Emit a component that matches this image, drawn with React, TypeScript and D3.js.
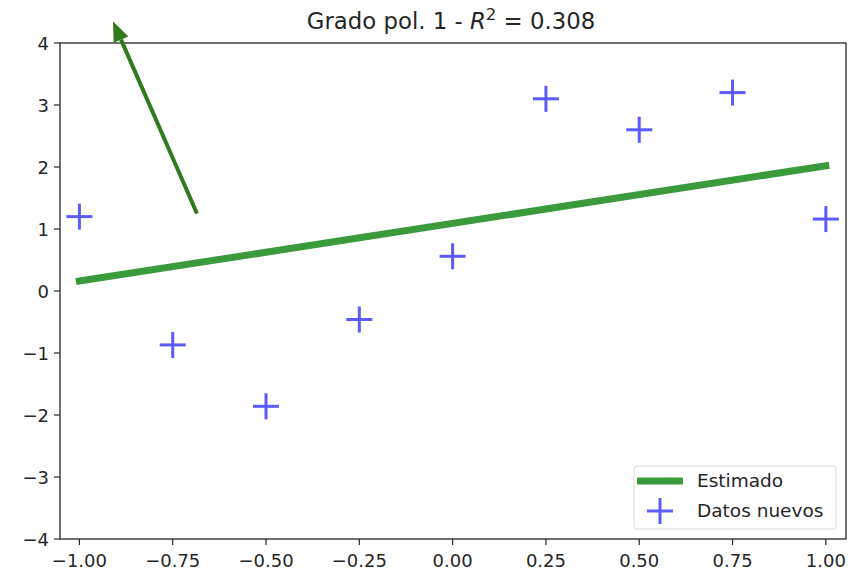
import React from "react";
import * as d3 from "d3";

const xTicks = [-1.0, -0.75, -0.5, -0.25, 0.0, 0.25, 0.5, 0.75, 1.0];
const yTicks = [-4, -3, -2, -1, 0, 1, 2, 3, 4];

// datos nuevos
const xData = [-1.0, -0.75, -0.5, -0.25, 0.0, 0.25, 0.5, 0.75, 1.0];
const yData = [1.2, -0.87, -1.86, -0.46, 0.56, 3.1, 2.6, 3.2, 1.16];

// recta estimada (extremos)
const fitX = [-1.0, 1.0];
const fitY = [0.16, 2.02];

// flecha (inicio -> punta)
const arrowFrom = [-0.685, 1.25];
const arrowTo = [-0.91, 4.35];

const W = 858;
const H = 572;
const margin = { left: 60, right: 12, top: 43, bottom: 33 };
const font = "DejaVu Sans, sans-serif";

export default function App() {
  const x = d3.scaleLinear().domain([-1.052, 1.054]).range([margin.left, W - margin.right]);
  const y = d3.scaleLinear().domain([-4, 4]).range([H - margin.bottom, margin.top]);

  const fitLine = d3
    .line<number>()
    .x((_, i) => x(fitX[i]))
    .y((d) => y(d))(fitY);

  const ax0 = x(arrowFrom[0]);
  const ay0 = y(arrowFrom[1]);
  const ax1 = x(arrowTo[0]);
  const ay1 = y(arrowTo[1]);
  const ang = Math.atan2(ay1 - ay0, ax1 - ax0);
  const headLen = 20;
  const headW = 8;
  const bx = ax1 - headLen * Math.cos(ang);
  const by = ay1 - headLen * Math.sin(ang);
  const px = -Math.sin(ang);
  const py = Math.cos(ang);
  const head = `M${ax1},${ay1} L${bx + px * headW},${by + py * headW} L${bx - px * headW},${by - py * headW} Z`;

  const mk = 13;
  const left = margin.left;
  const right = W - margin.right;
  const top = margin.top;
  const bottom = H - margin.bottom;

  const lgX = 634;
  const lgY = 466;

  return (
    <svg width={W} height={H} style={{ position: "absolute", left: 0, top: 0, background: "#fff" }}>
      <text x={(left + right) / 2 - 2} y={29} textAnchor="middle" fontFamily={font} fontSize={22.8} fill="#262626">
        Grado pol. 1 - <tspan fontStyle="italic">R</tspan>
        <tspan dy={-9} fontSize={16.5}>2</tspan>
        <tspan dy={9}> = 0.308</tspan>
      </text>

      <path d={fitLine ?? ""} fill="none" stroke="#3b9a3b" strokeWidth={7} strokeLinecap="square" />

      {xData.map((xv, i) => (
        <g key={i} stroke="#5b5bff" strokeWidth={3}>
          <line x1={x(xv) - mk} x2={x(xv) + mk} y1={y(yData[i])} y2={y(yData[i])} />
          <line x1={x(xv)} x2={x(xv)} y1={y(yData[i]) - mk} y2={y(yData[i]) + mk} />
        </g>
      ))}

      <rect x={left} y={top} width={right - left} height={bottom - top} fill="none" stroke="#262626" strokeWidth={1.3} />

      <line x1={ax0} y1={ay0} x2={bx} y2={by} stroke="#327a1e" strokeWidth={4} />
      <path d={head} fill="#327a1e" />

      {xTicks.map((t) => (
        <g key={t}>
          <line x1={x(t)} x2={x(t)} y1={bottom} y2={bottom + 6} stroke="#262626" strokeWidth={1.2} />
          <text x={x(t)} y={bottom + 28} textAnchor="middle" fontFamily={font} fontSize={18} fill="#262626">
            {d3.format(".2f")(t).replace("-", "−")}
          </text>
        </g>
      ))}
      {yTicks.map((t) => (
        <g key={t}>
          <line x1={left - 6} x2={left} y1={y(t)} y2={y(t)} stroke="#262626" strokeWidth={1.2} />
          <text x={left - 11} y={y(t) + 6.5} textAnchor="end" fontFamily={font} fontSize={18} fill="#262626">
            {String(t).replace("-", "−")}
          </text>
        </g>
      ))}

      <rect x={lgX} y={lgY} width={202} height={63} rx={3} fill="#fff" fillOpacity={0.8} stroke="#d9d9d9" />
      <line x1={lgX + 3} x2={lgX + 49} y1={lgY + 15} y2={lgY + 15} stroke="#3b9a3b" strokeWidth={7} />
      <text x={lgX + 63} y={lgY + 21} fontFamily={font} fontSize={18.5} fill="#262626">Estimado</text>
      <g stroke="#5b5bff" strokeWidth={3}>
        <line x1={lgX + 13} x2={lgX + 39} y1={lgY + 45} y2={lgY + 45} />
        <line x1={lgX + 26} x2={lgX + 26} y1={lgY + 32} y2={lgY + 58} />
      </g>
      <text x={lgX + 63} y={lgY + 51} fontFamily={font} fontSize={18.5} fill="#262626">Datos nuevos</text>
    </svg>
  );
}
